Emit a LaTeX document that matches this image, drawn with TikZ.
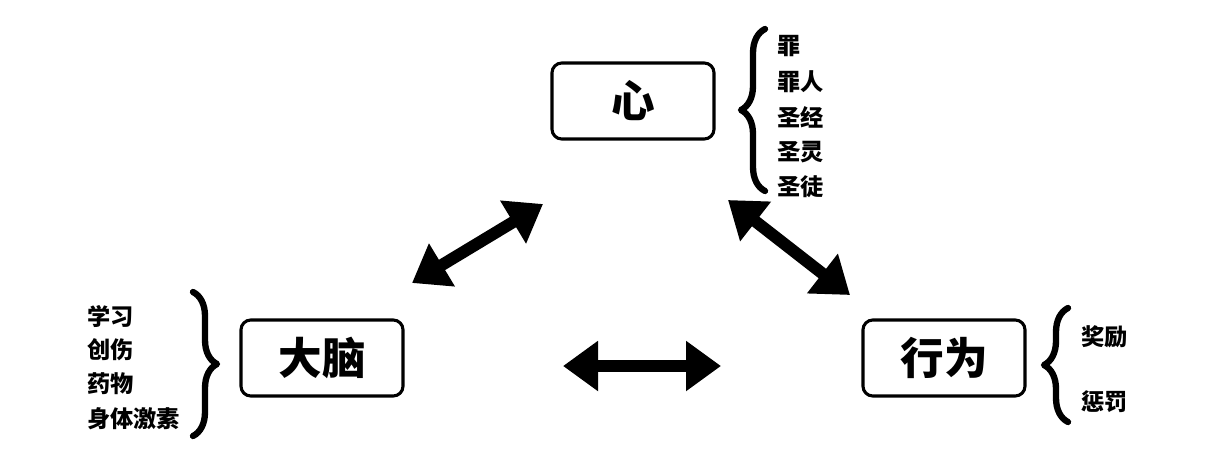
\documentclass[tikz,border=0pt]{standalone}
\usepackage{fontspec}
\newfontfamily\cjk{Noto Sans CJK SC}
\usetikzlibrary{arrows.meta,decorations.pathreplacing}

\begin{document}
\begin{tikzpicture}[line cap=round,line join=round,x=0.025cm,y=-0.025cm,
    box/.style={draw,line width=2.2pt,rounded corners=7pt,minimum width=4.05cm,minimum height=1.9cm,font=\cjk\bfseries\fontsize{31}{36}\selectfont},
    item/.style={anchor=west,inner sep=0pt,font=\cjk\bfseries\fontsize{16.5}{19}\selectfont},
    bigarrow/.style={line width=0.3cm,line cap=butt,{Triangle[length=0.875cm,width=1.2cm]}-{Triangle[length=0.875cm,width=1.2cm]}},
    curly/.style={decorate,decoration={brace,amplitude=0.6cm},line width=4.5pt}]
    \useasboundingbox (0,0) rectangle (1208,462);
    % boxes
    \node[box] (heart) at (633,101) {心};
    \node[box] (brain) at (322,358) {大脑};
    \node[box] (deed) at (944,358) {行为};
    % arrow ends
    \coordinate (bh1) at (412,283);
    \coordinate (bh2) at (543,204);
    \coordinate (hd1) at (728,200);
    \coordinate (hd2) at (850,295);
    \coordinate (bd1) at (563,366);
    \coordinate (bd2) at (721,366);
    \draw [bigarrow] (bh1) -- (bh2);
    \draw [bigarrow] (hd1) -- (hd2);
    \draw [bigarrow] (bd1) -- (bd2);
    % heart list
    \draw [curly] (765,191) -- (765,29);
    \node[item] (sin) at (777,46) {罪};
    \node[item] (sinner) at (777,82) {罪人};
    \node[item] (bible) at (777,117) {圣经};
    \node[item] (spirit) at (777,152) {圣灵};
    \node[item] (saint) at (777,187) {圣徒};
    % brain list
    \draw [curly] (193,292) -- (193,436);
    \node[item] (learn) at (87,316) {学习};
    \node[item] (trauma) at (87,350) {创伤};
    \node[item] (drug) at (87,384) {药物};
    \node[item] (hormone) at (87,419) {身体激素};
    % deed list
    \draw [curly] (1068,422) -- (1068,308);
    \node[item] (reward) at (1081,337) {奖励};
    \node[item] (punish) at (1081,402) {惩罚};
\end{tikzpicture}
\end{document}
